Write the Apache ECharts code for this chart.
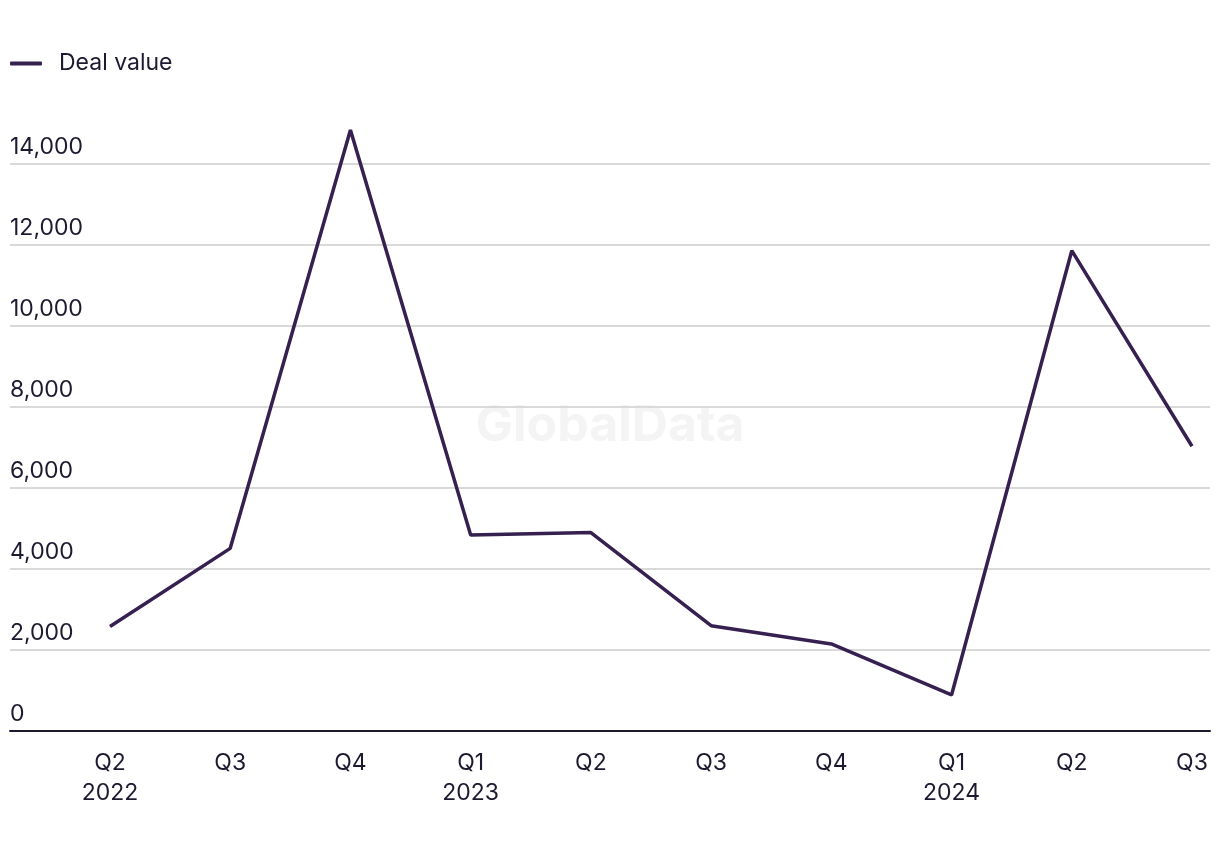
<!DOCTYPE html>
<html>
<head>
<meta charset="utf-8">
<script src="https://cdn.jsdelivr.net/npm/echarts@6/dist/echarts.min.js"></script>
<style>
html,body{margin:0;padding:0;background:#fff;}
#chart{width:1220px;height:852px;}
</style>
</head>
<body>
<div id="chart"></div>
<script>
const categories = ['Q2\n2022','Q3','Q4','Q1\n2023','Q2','Q3','Q4','Q1\n2024','Q2','Q3'];
const dealValue = [2580, 4510, 14840, 4840, 4900, 2600, 2150, 890, 11860, 7030];
const seriesName = 'Deal value';
const yMin = 0, yMax = 14000, yInterval = 2000;

const textColor = '#1c1a30';
const lineColor = '#35204f';
const fontFamily = 'Inter, "Noto Sans", sans-serif';

const chart = echarts.init(document.getElementById('chart'));
chart.setOption({
  animation: false,
  backgroundColor: '#fff',
  graphic: [{
    type: 'text',
    left: 'center',
    top: 401,
    style: { text: 'GlobalData', fill: '#f4f4f4', font: 'bold 50px Inter, "Noto Sans", sans-serif' },
    z: 0
  }],
  legend: {
    left: 5, top: 47,
    itemWidth: 32, itemHeight: 4, itemGap: 20,
    icon: 'roundRect',
    textStyle: { color: textColor, fontSize: 23, fontFamily: fontFamily, padding: [0,0,0,12] },
    data: [seriesName]
  },
  grid: [
    { left: 10, right: 10, top: 164, bottom: 121 },
    { left: 110, right: 28, top: 164, bottom: 121 }
  ],
  xAxis: [
    { gridIndex: 0, type: 'value', min: 0, max: 1, axisLabel: { show: false }, axisTick: { show: false }, splitLine: { show: false },
      axisLine: { show: true, lineStyle: { color: textColor, width: 2 } } },
    { gridIndex: 1, type: 'category', boundaryGap: false, data: categories,
      axisLine: { show: false }, axisTick: { show: false },
      axisLabel: { color: textColor, fontSize: 23, fontFamily: fontFamily, lineHeight: 30, margin: 17, interval: 0 } }
  ],
  yAxis: [
    { gridIndex: 0, type: 'value', min: yMin, max: yMax, interval: yInterval,
      axisLine: { show: false }, axisTick: { show: false },
      splitLine: { show: true, lineStyle: { color: '#d9d9d9', width: 2 } },
      axisLabel: { inside: true, margin: 0, align: 'left', verticalAlign: 'bottom', padding: [0,0,5,0],
        color: textColor, fontSize: 23, fontFamily: fontFamily,
        formatter: v => v.toLocaleString('en-US') } },
    { gridIndex: 1, type: 'value', min: yMin, max: yMax, interval: yInterval, show: false }
  ],
  series: [{
    name: seriesName,
    type: 'line',
    xAxisIndex: 1, yAxisIndex: 1,
    data: dealValue,
    clip: false,
    symbol: 'none',
    color: lineColor,
    lineStyle: { color: lineColor, width: 3.5 },
    z: 5
  }]
});
</script>
</body>
</html>
